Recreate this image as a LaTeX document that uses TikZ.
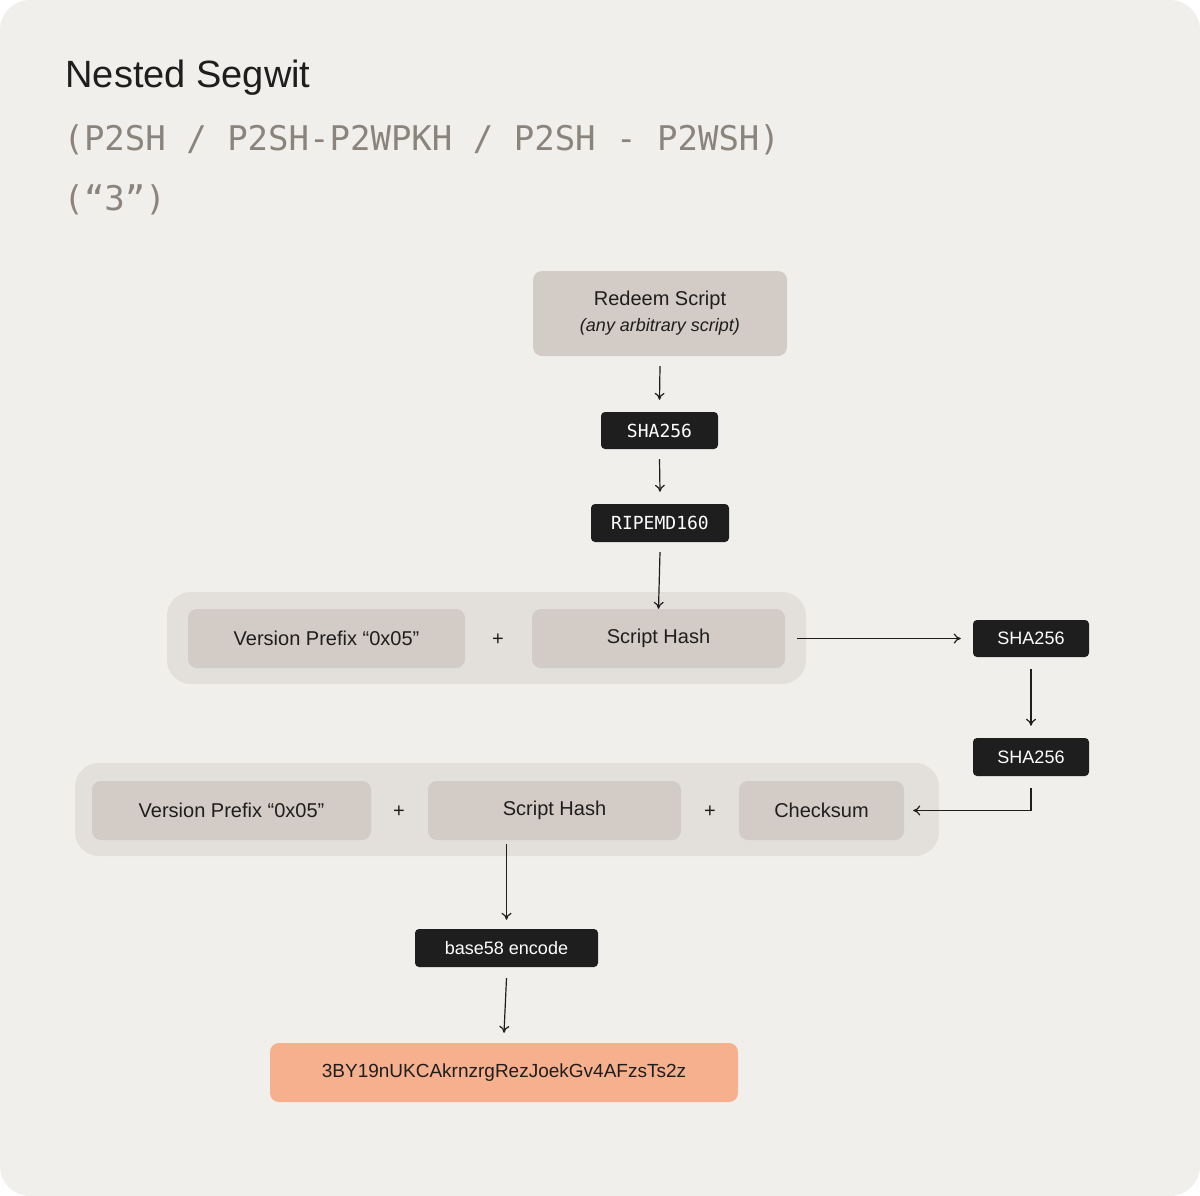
\documentclass[tikz,border=0pt]{standalone}
\usepackage{fontspec}
\setmainfont{Liberation Sans}
\newfontfamily\monof{DejaVu Sans Mono}
\usetikzlibrary{arrows.meta}
\definecolor{bgc}{HTML}{F1EFEC}
\definecolor{grpc}{HTML}{E3DFDA}
\definecolor{boxc}{HTML}{D3CBC5}
\definecolor{blk}{HTML}{1E1E1E}
\definecolor{orc}{HTML}{F6B08E}
\definecolor{subc}{HTML}{8A847C}
\begin{document}
\begin{tikzpicture}[x=1pt,y=-1pt,
 grp/.style={fill=grpc,rounded corners=22pt},
 box/.style={fill=boxc,rounded corners=9pt,font=\fontsize{20}{24}\selectfont,text=blk},
 blkb/.style={fill=blk,rounded corners=4pt,text=white,font=\fontsize{18}{22}\selectfont},
 arr/.style={-{To[length=7pt,width=10pt]},line width=1.2pt,draw=blk},
 plus/.style={font=\fontsize{20}{24}\selectfont,text=blk}]
\fill[bgc,rounded corners=30pt] (0,0) rectangle (1200,1196);
\useasboundingbox (0,0) rectangle (1200,1196);
\node[anchor=base west,font=\fontsize{38}{44}\selectfont,text=blk] (t1) at (62,88) {Nested Segwit};
\node[anchor=base west,font=\monof\fontsize{34}{40}\selectfont,text=subc] (t2) at (60,150) {(P2SH / P2SH-P2WPKH / P2SH - P2WSH)};
\node[anchor=base west,font=\monof\fontsize{34}{40}\selectfont,text=subc] (t3) at (60,210) {(“3”)};
% top
\node[box,minimum width=254pt,minimum height=85pt,align=center] (rs) at (660,313.5) {Redeem Script\\[2pt]{\itshape\fontsize{18}{22}\selectfont (any arbitrary script)}};
\node[blkb,minimum width=117pt,minimum height=37pt,font=\monof\fontsize{18}{22}\selectfont] (s1) at (659.5,430.5) {SHA256};
\node[blkb,minimum width=138pt,minimum height=38pt,font=\monof\fontsize{18}{22}\selectfont] (r1) at (660,523) {RIPEMD160};
% group 1
\fill[grpc,rounded corners=24pt] (167,592) rectangle (806,684);
\node[box,minimum width=277pt,minimum height=59pt] (vp1) at (326.5,638.5) {Version Prefix “0x05”};
\node[plus] (p1) at (498,640) {+};
\node[box,minimum width=253pt,minimum height=59pt] (sh1) at (658.5,638.5) {Script Hash};
\node[blkb,minimum width=116pt,minimum height=37pt] (s2) at (1031,638.5) {SHA256};
\node[blkb,minimum width=116pt,minimum height=38pt] (s3) at (1031,757) {SHA256};
% group 2
\fill[grpc,rounded corners=24pt] (75,763) rectangle (939,856);
\node[box,minimum width=279pt,minimum height=59pt] (vp2) at (231.5,810.5) {Version Prefix “0x05”};
\node[plus] (p2) at (399,812) {+};
\node[box,minimum width=253pt,minimum height=59pt] (sh2) at (554.5,810.5) {Script Hash};
\node[plus] (p3) at (710,812) {+};
\node[box,minimum width=165pt,minimum height=59pt] (ck) at (821.5,810.5) {Checksum};
\node[blkb,minimum width=183pt,minimum height=38pt] (b58) at (506.5,948) {base58 encode};
\node[fill=orc,rounded corners=9pt,minimum width=468pt,minimum height=59pt,font=\fontsize{19}{23}\selectfont,text=blk] (out) at (504,1072.5) {3BY19nUKCAkrnzrgRezJoekGv4AFzsTs2z};
\coordinate (g2b) at (506.5,856);
% arrows
\draw[arr] ([yshift=-10pt]rs.south) -- ([yshift=12pt]s1.north);
\draw[arr] ([yshift=-10pt]s1.south) -- ([yshift=12pt]r1.north);
\draw[arr] ([yshift=-10pt]r1.south) -- (sh1.north);
\draw[arr] ([xshift=12pt]sh1.east) -- ([xshift=-12pt]s2.west);
\draw[arr] ([yshift=-12pt]s2.south) -- ([yshift=12pt]s3.north);
\draw[arr] ([yshift=-12pt]s3.south) |- ([xshift=9pt]ck.east);
\draw[arr] ([yshift=12pt]g2b) -- ([yshift=9pt]b58.north);
\draw[arr] ([yshift=-11pt]b58.south) -- ([yshift=10pt]out.north);
\end{tikzpicture}
\end{document}
